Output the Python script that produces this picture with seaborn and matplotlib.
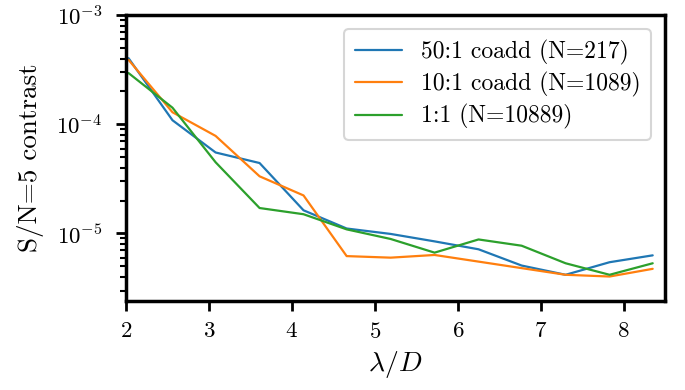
import numpy as np
import pandas as pd
import matplotlib
matplotlib.use("Agg")
import matplotlib.pyplot as plt
import seaborn as sns

# separation in lambda/D
sep = [2.03, 2.56, 3.08, 3.61, 4.14, 4.66, 5.19, 5.72, 6.25, 6.77, 7.30, 7.83, 8.35]

# 5-sigma contrast curves
coadd50 = [4.04e-4, 1.09e-4, 5.52e-5, 4.42e-5, 1.63e-5, 1.11e-5, 9.9e-6,
           8.46e-6, 7.16e-6, 5.08e-6, 4.18e-6, 5.45e-6, 6.3e-6]
coadd10 = [3.9e-4, 1.29e-4, 7.83e-5, 3.34e-5, 2.23e-5, 6.2e-6, 6.0e-6,
           6.35e-6, 5.52e-6, 4.81e-6, 4.18e-6, 4.03e-6, 4.74e-6]
single = [2.95e-4, 1.42e-4, 4.49e-5, 1.71e-5, 1.5e-5, 1.09e-5, 8.9e-6,
          6.67e-6, 8.81e-6, 7.72e-6, 5.33e-6, 4.18e-6, 5.33e-6]

labels = ["50:1 coadd (N=217)", "10:1 coadd (N=1089)", "1:1 (N=10889)"]

df = pd.DataFrame({
    "sep": sep * 3,
    "contrast": coadd50 + coadd10 + single,
    "series": [labels[0]] * len(sep) + [labels[1]] * len(sep) + [labels[2]] * len(sep),
})

sns.set_style("ticks")
plt.rcParams["font.family"] = ["cmr10"]
plt.rcParams["mathtext.fontset"] = "cm"
plt.rcParams["axes.formatter.use_mathtext"] = True
plt.rcParams["axes.unicode_minus"] = False
plt.rcParams["text.color"] = "black"
plt.rcParams["axes.labelcolor"] = "black"
plt.rcParams["xtick.color"] = "black"
plt.rcParams["ytick.color"] = "black"
plt.rcParams["axes.edgecolor"] = "black"

fig = plt.figure(figsize=(6.85, 3.9), dpi=100)
ax = fig.add_axes([0.184, 0.228, 0.787, 0.733])

sns.lineplot(data=df, x="sep", y="contrast", hue="series",
             palette=["#1f77b4", "#ff7f0e", "#2ca02c"], linewidth=1.6, ax=ax)

ax.set_yscale("log")
ax.set_xlim(2, 8.5)
ax.set_ylim(2.4e-6, 1e-3)
ax.set_xticks([2, 3, 4, 5, 6, 7, 8])

ax.set_xlabel(r"$\lambda/D$", fontsize=20, labelpad=5)
ax.set_ylabel("S/N=5 contrast", fontsize=19.5, labelpad=9)

for s in ax.spines.values():
    s.set_linewidth(2.5)
    s.set_color("black")
ax.tick_params(which="major", length=7, width=2, labelsize=16.5, direction="out")
ax.tick_params(axis="x", which="major", pad=8)
ax.tick_params(axis="y", which="major", pad=10)
ax.tick_params(which="minor", length=4, width=1.5)

leg = ax.legend(loc="upper right", fontsize=17, frameon=True, fancybox=True,
                handlelength=2.0, borderpad=0.45, labelspacing=0.3,
                borderaxespad=0.6)
leg.get_frame().set_edgecolor("#cccccc")
leg.get_frame().set_linewidth(1.5)
leg.set_title(None)

fig.savefig("out.png", dpi=100)
